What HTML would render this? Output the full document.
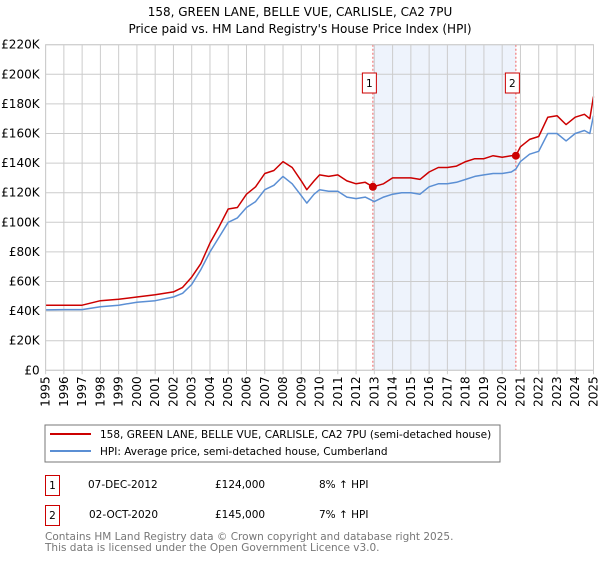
<!DOCTYPE html>
<html><head><meta charset="utf-8"><style>
body{margin:0;background:#fff;width:600px;height:560px;overflow:hidden;font-family:"DejaVu Sans","Liberation Sans",sans-serif;}
svg text{font-family:"DejaVu Sans","Liberation Sans",sans-serif;}
</style></head><body>
<svg id="c" width="600" height="560" xmlns="http://www.w3.org/2000/svg">
<text x="300" y="16" text-anchor="middle" font-size="12" fill="#000">158, GREEN LANE, BELLE VUE, CARLISLE, CA2 7PU</text>
<text x="300" y="33" text-anchor="middle" font-size="12" fill="#000">Price paid vs. HM Land Registry's House Price Index (HPI)</text>
<g id="grid"></g><g id="series"></g><g id="axes"></g>
<rect x="45" y="425" width="455" height="37" fill="#fff" stroke="#777"/>
<line x1="50" y1="434" x2="91" y2="434" stroke="#cc0000" stroke-width="2"/>
<text x="100" y="438" font-size="10.5">158, GREEN LANE, BELLE VUE, CARLISLE, CA2 7PU (semi-detached house)</text>
<line x1="50" y1="451" x2="91" y2="451" stroke="#5b8fd4" stroke-width="2"/>
<text x="100" y="455" font-size="10.5">HPI: Average price, semi-detached house, Cumberland</text>
<rect x="45.5" y="475.5" width="14" height="20" fill="none" stroke="#cc0000"/>
<text x="52.5" y="489" font-size="10.5" text-anchor="middle">1</text>
<text x="88" y="488" font-size="10.5">07-DEC-2012</text>
<text x="215" y="488" font-size="10.5">£124,000</text>
<text x="319" y="488" font-size="10.5">8% ↑ HPI</text>
<rect x="45.5" y="505.5" width="14" height="20" fill="none" stroke="#cc0000"/>
<text x="52.5" y="519" font-size="10.5" text-anchor="middle">2</text>
<text x="89" y="518" font-size="10.5">02-OCT-2020</text>
<text x="215" y="518" font-size="10.5">£145,000</text>
<text x="319" y="518" font-size="10.5">7% ↑ HPI</text>
<text x="45" y="540" font-size="10.5" fill="#777">Contains HM Land Registry data © Crown copyright and database right 2025.</text>
<text x="45" y="551" font-size="10.5" fill="#777">This data is licensed under the Open Government Licence v3.0.</text>
</svg>
<script>
const hpiYears=[1995,1996,1997,1998,1999,2000,2001,2002,2002.5,2003,2003.5,2004,2004.5,2005,2005.5,2006,2006.5,2007,2007.5,2008,2008.5,2009,2009.3,2009.7,2010,2010.5,2011,2011.5,2012,2012.5,2013,2013.5,2014,2014.5,2015,2015.5,2016,2016.5,2017,2017.5,2018,2018.5,2019,2019.5,2020,2020.5,2020.75,2021,2021.5,2022,2022.5,2023,2023.5,2024,2024.5,2024.8,2025];
const hpiValues=[40.8,41,41,43,44,46,47,49.5,52,58,68,80,90,100,103,110,114,122,125,131,126,118,113,119,122,121,121,117,116,117,114,117,119,120,120,119,124,126,126,127,129,131,132,133,133,134,136,141,146,148,160,160,155,160,162,160,172];
const priceYears=[1995,1996,1997,1998,1999,2000,2001,2002,2002.5,2003,2003.5,2004,2004.5,2005,2005.5,2006,2006.5,2007,2007.5,2008,2008.5,2009,2009.3,2009.7,2010,2010.5,2011,2011.5,2012,2012.5,2012.92,2013.5,2014,2014.5,2015,2015.5,2016,2016.5,2017,2017.5,2018,2018.5,2019,2019.5,2020,2020.5,2020.75,2021,2021.5,2022,2022.5,2023,2023.5,2024,2024.5,2024.8,2025];
const priceValues=[44,44,44,47,48,49.5,51,53,56,63,72,86,97,109,110,119,124,133,135,141,137,128,122,128,132,131,132,128,126,127,124,126,130,130,130,129,134,137,137,138,141,143,143,145,144,145,145,151,156,158,171,172,166,171,173,170,185];
const saleYears=[2012.92,2020.75];
const saleValues=[124,145];
const saleLabels=["1","2"];
const yTicks=[0,20,40,60,80,100,120,140,160,180,200,220];
const yTickLabels=["£0","£20K","£40K","£60K","£80K","£100K","£120K","£140K","£160K","£180K","£200K","£220K"];
const xTicks=[1995,1996,1997,1998,1999,2000,2001,2002,2003,2004,2005,2006,2007,2008,2009,2010,2011,2012,2013,2014,2015,2016,2017,2018,2019,2020,2021,2022,2023,2024,2025];

const NS="http://www.w3.org/2000/svg";
const X0=45.6,X1=593.5,Y0=370.3,Y1=44.7;
const xs=y=>X0+(y-1995)/(2025-1995)*(X1-X0);
const ys=v=>Y0-(v/220)*(Y0-Y1);
function mk(t,a,p){const e=document.createElementNS(NS,t);for(const k in a)e.setAttribute(k,a[k]);p.appendChild(e);return e;}
const grid=document.getElementById('grid'),ser=document.getElementById('series'),ax=document.getElementById('axes');
const bg=mk('rect',{x:X0,y:Y1,width:X1-X0,height:Y0-Y1,fill:'#fff'},grid);


const sh=mk('rect',{x:xs(saleYears[0]),y:Y1,width:xs(saleYears[1])-xs(saleYears[0]),height:Y0-Y1,fill:'#eef3fc'},grid);


yTicks.forEach((v,i)=>{
  const l=mk('line',{x1:X0,x2:X1,y1:ys(v),y2:ys(v),stroke:'#ccc','stroke-width':1},grid);
  
  
  const t=mk('text',{x:X0-6,y:ys(v)+4,'text-anchor':'end','font-size':12,fill:'#000'},ax);
  t.textContent=yTickLabels[i];
  
  
});
xTicks.forEach(yr=>{
  const l=mk('line',{x1:xs(yr),x2:xs(yr),y1:Y1,y2:Y0+4,stroke:'#ccc','stroke-width':1},grid);
  
  
  const t=mk('text',{x:0,y:0,'text-anchor':'end','font-size':12,transform:`translate(${xs(yr)+4},${Y0+6}) rotate(-90)`},ax);
  t.textContent=String(yr);
  
  
});
saleYears.forEach((yr,i)=>{
  const l=mk('line',{x1:xs(yr),x2:xs(yr),y1:Y1,y2:Y0,stroke:'#f06060','stroke-width':1,'stroke-dasharray':'2,2'},grid);
  
  
});
function path(xa,va,c,name){
  const d=xa.map((x,i)=>(i?'L':'M')+xs(x).toFixed(1)+','+ys(va[i]).toFixed(1)).join('');
  const p=mk('path',{d:d,fill:'none',stroke:c,'stroke-width':1.5,'stroke-linejoin':'round'},ser);
  
  
}
path(hpiYears,hpiValues,'#5b8fd4','hpi-line');
path(priceYears,priceValues,'#cc0000','price-line');
saleYears.forEach((yr,i)=>{
  const c=mk('circle',{cx:xs(yr),cy:ys(saleValues[i]),r:4,fill:'#cc0000'},ser);
  
  
  const r=mk('rect',{x:xs(yr)-10.5,y:73,width:14,height:20,fill:'#fff',stroke:'#cc0000'},ser);
  
  
  const t=mk('text',{x:xs(yr)-3.5,y:87,'text-anchor':'middle','font-size':10.5},ser);
  t.textContent=saleLabels[i];
  
  
});
const fr=mk('rect',{x:X0,y:Y1,width:X1-X0,height:Y0-Y1,fill:'none',stroke:'#ccc'},ax);


</script>
</body></html>
